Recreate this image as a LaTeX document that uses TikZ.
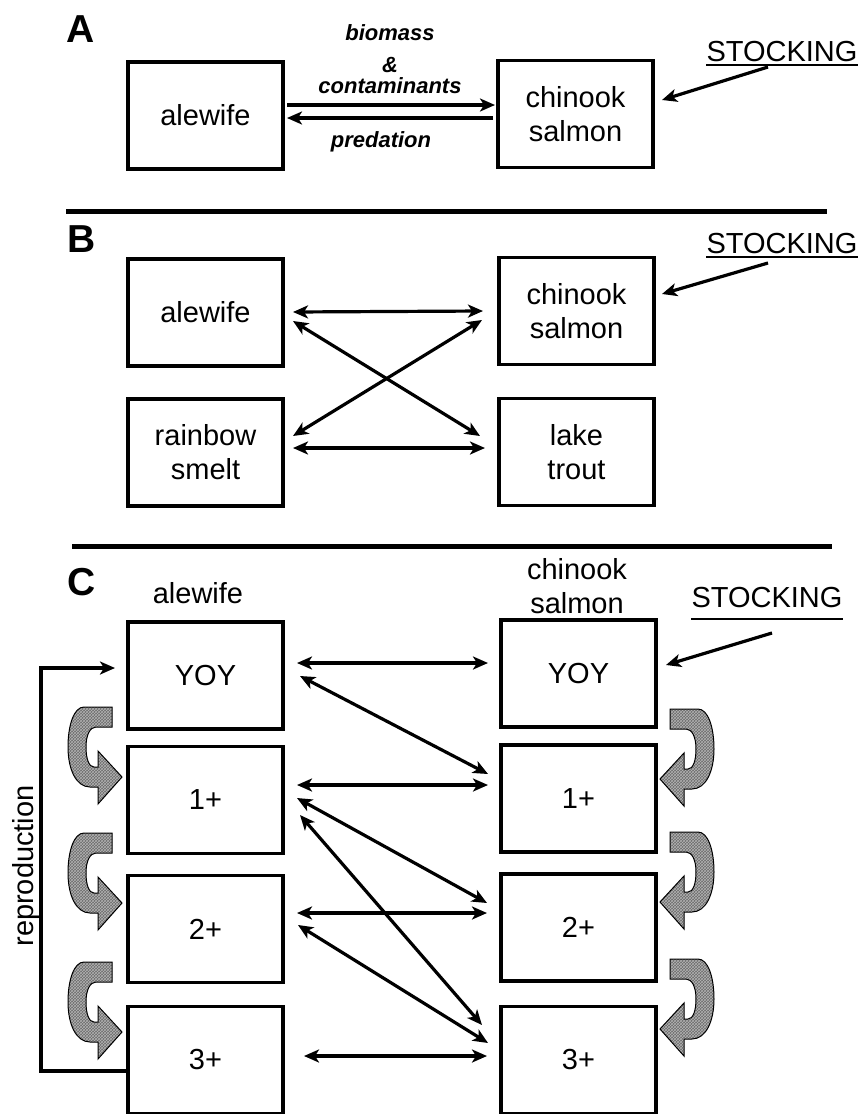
\documentclass[tikz,border=0pt]{standalone}
\usepackage{fontspec}
\setmainfont{Liberation Sans}
\usetikzlibrary{arrows.meta,calc,patterns}
\newcommand\bendpath{(0,0) -- (-28,0) .. controls (-38,0) and (-44,18) .. (-44,40) .. controls (-44,62) and (-36,80) .. (-22,80) -- (-14,80) -- (-14,97) -- (10,70) -- (-14,44) -- (-14,60) -- (-18,60) .. controls (-23,60) and (-26,52) .. (-26,40) .. controls (-26,28) and (-22,20) .. (-16,20) -- (0,20) -- cycle}
\begin{document}
\begin{tikzpicture}[x=1pt,y=-1pt,
  >={Stealth[length=15pt,width=13pt,inset=4pt]},
  box/.style={draw, line width=3.5pt, minimum width=155pt, minimum height=107pt, inner sep=0pt, outer sep=0pt, align=center, font=\fontsize{29}{34}\selectfont},
  lbl/.style={anchor=base, inner sep=0pt, font=\fontsize{29}{34}\selectfont},
  panel/.style={anchor=base, inner sep=0pt, font=\fontsize{39}{39}\selectfont\bfseries},
  flow/.style={anchor=base, inner sep=0pt, font=\fontsize{22}{26}\selectfont\bfseries\itshape},
  link/.style={<->, line width=3.2pt},
  oneway/.style={->, line width=3.2pt},
  sep/.style={line width=5pt},
  uline/.style={line width=2.5pt},
  bendarrow/.style={draw=black, line width=1pt, preaction={fill=black!58}, pattern=crosshatch, pattern color=black!30},
]
\useasboundingbox (0,0) rectangle (859,1114);
\fill[white] (0,0) rectangle (859,1114);

% ---------- Panel A ----------
\node[panel] (pA) at (81,42) {A};
\node[box] (aAle) at (205.5,115.5) {alewife};
\node[box] (aChi) at (575.5,114) {chinook\\salmon};
\node[flow] (fBio) at (390,40) {biomass};
\node[flow] (fAmp) at (390,72) {\&};
\node[flow] (fCon) at (390,93) {contaminants};
\node[flow] (fPre) at (381,147) {predation};
\draw[oneway] ($(aAle.east)+(4,-10.5)$) -- ($(aChi.west)+(-3,-9)$);
\draw[oneway] ($(aChi.west)+(-5,4)$) -- ($(aAle.east)+(4,2.5)$);
\node[lbl] (sA) at (782,61) {STOCKING};
\draw[uline] ($(sA.base west)+(0,4)$) -- ($(sA.base east)+(0,4)$);
\draw[oneway] ($(sA.base)+(-14,6)$) -- ($(aChi.east)+(9,-14)$);
\coordinate (s1a) at (66,211);
\coordinate (s1b) at (827,211);
\draw[sep] (s1a) -- (s1b);

% ---------- Panel B ----------
\node[panel] (pB) at (82,252) {B};
\node[box] (bAle) at (205.5,312.5) {alewife};
\node[box] (bSme) at (205.5,452.5) {rainbow\\smelt};
\node[box] (bChi) at (576.5,311) {chinook\\salmon};
\node[box] (bTro) at (576.5,452) {lake\\trout};
\draw[link] ($(bAle.east)+(10,-0.5)$) -- ($(bChi.west)+(-16,0)$);
\draw[link] ($(bAle.east)+(10,8.5)$) -- ($(bTro.west)+(-19,-16)$);
\draw[link] ($(bSme.east)+(10,-16.5)$) -- ($(bChi.west)+(-17,9)$);
\draw[link] ($(bSme.east)+(10,-4.5)$) -- ($(bTro.west)+(-14,-4)$);
\node[lbl] (sB) at (782,253) {STOCKING};
\draw[uline] ($(sB.base west)+(0,4)$) -- ($(sB.base east)+(0,4)$);
\draw[oneway] ($(sB.base)+(-14,10)$) -- ($(bChi.east)+(8,-17)$);
\coordinate (s2a) at (72,546);
\coordinate (s2b) at (832,546);
\draw[sep] (s2a) -- (s2b);

% ---------- Panel C ----------
\node[panel] (pC) at (82,595) {C};
\node[lbl] (cAleT) at (198,603) {alewife};
\node[lbl] (cChiT1) at (577,579) {chinook};
\node[lbl] (cChiT2) at (577,613) {salmon};
\node[lbl] (sC) at (767,607) {STOCKING};
\draw[uline] ($(sC.base west)+(0,12)$) -- ($(sC.base east)+(0,12)$);

\node[box] (L0) at (205.5,675.5) {YOY};
\node[box] (L1) at (205.5,800) {1+};
\node[box] (L2) at (205.5,929) {2+};
\node[box] (L3) at (205.5,1060) {3+};
\node[box] (R0) at (578.5,673.5) {YOY};
\node[box] (R1) at (578.5,798.5) {1+};
\node[box] (R2) at (578.5,927.5) {2+};
\node[box] (R3) at (578.5,1060) {3+};

\draw[oneway] ($(sC.base)+(5,26)$) -- ($(R0.east)+(10,-8.5)$);

\draw[link] ($(L0.east)+(14,-12.5)$) -- ($(R0.west)+(-13,-10.5)$);
\draw[link] ($(L0.east)+(17,0.5)$) -- ($(R1.west)+(-13,-24.5)$);
\draw[link] ($(L1.east)+(14,-15)$) -- ($(R1.west)+(-13,-13.5)$);
\draw[link] ($(L1.east)+(14,-2)$) -- ($(R2.west)+(-14,-24.5)$);
\draw[link] ($(L1.east)+(17,15)$) -- ($(R3.west)+(-19,-35)$);
\draw[link] ($(L2.east)+(14,-16)$) -- ($(R2.west)+(-14,-14.5)$);
\draw[link] ($(L2.east)+(15,-4)$) -- ($(R3.west)+(-13,-17)$);
\draw[link] ($(L3.east)+(21,-4)$) -- ($(R3.west)+(-14,-4)$);

% reproduction loop
\draw[oneway, line join=miter] ($(L3.west)+(0,11)$) -| ($(L0.west)+(-87,-7.5)$) -- ($(L0.west)+(-13,-7.5)$);
\node[rotate=90, inner sep=0pt, font=\fontsize{29}{34}\selectfont] (repro) at (26,866) {reproduction};

% ageing arrows
\path[bendarrow, shift={(112,707)}] \bendpath;
\path[bendarrow, shift={(112,833)}] \bendpath;
\path[bendarrow, shift={(112,962)}] \bendpath;
\path[bendarrow, shift={(670,709)}, xscale=-1] \bendpath;
\path[bendarrow, shift={(670,832)}, xscale=-1] \bendpath;
\path[bendarrow, shift={(670,959)}, xscale=-1] \bendpath;
\end{tikzpicture}
\end{document}
